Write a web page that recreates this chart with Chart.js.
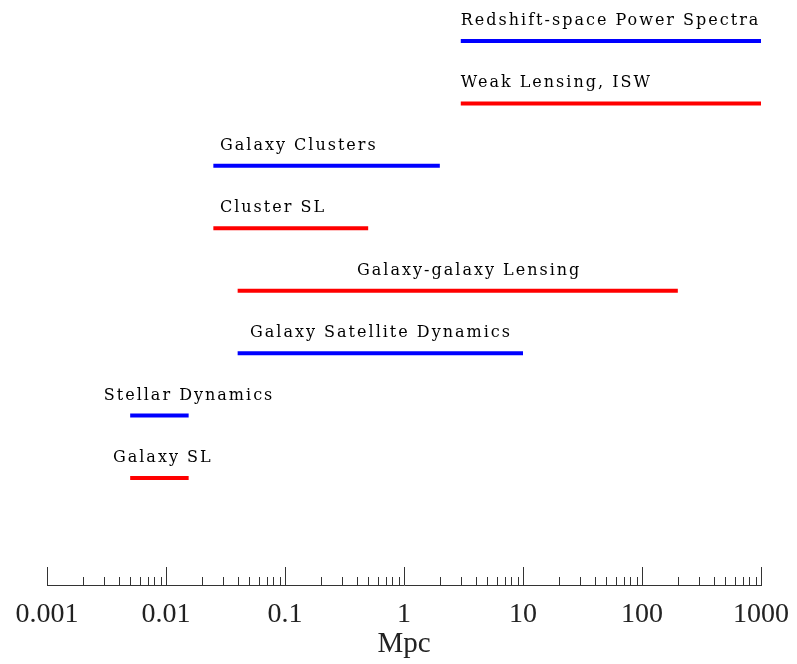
<!DOCTYPE html>
<html>
<head>
<meta charset="utf-8">
<script src="https://cdn.jsdelivr.net/npm/chart.js@4.4.1/dist/chart.umd.min.js"></script>
<style>
  html, body { margin: 0; padding: 0; background: #fff; }
  #wrap { width: 797px; height: 664px; }
</style>
</head>
<body>
<div id="wrap"><canvas id="scales" width="797" height="664"></canvas></div>
<script>
// probe names, top to bottom
const probes = ['Redshift-space Power Spectra', 'Weak Lensing, ISW', 'Galaxy Clusters', 'Cluster SL',
                'Galaxy-galaxy Lensing', 'Galaxy Satellite Dynamics', 'Stellar Dynamics', 'Galaxy SL'];
// scale range covered by each probe, in Mpc
const rangeFrom = [3, 3, 0.025, 0.025, 0.04, 0.04, 0.005, 0.005];
const rangeTo = [1000, 1000, 2, 0.5, 200, 10, 0.0155, 0.0155];
// where each label starts, in Mpc
const labelAt = [3, 3, 0.0284, 0.0284, 0.403, 0.0508, 0.003, 0.00358];
const colours = ['blue', 'red', 'blue', 'red', 'red', 'blue', 'blue', 'red'];
const tickLabels = ['0.001', '0.01', '0.1', '1', '10', '100', '1000'];

const rows = probes.map((p, i) => probes.length - i);

const datasets = probes.map((p, i) => ({
    label: p,
    data: [{x: rangeFrom[i], y: rows[i]}, {x: rangeTo[i], y: rows[i]}],
    borderColor: colours[i] === 'blue' ? '#0000ff' : '#ff0000',
    borderWidth: 4,
    pointRadius: 0,
    borderCapStyle: 'butt'
}));

const probeLabels = {
    id: 'probeLabels',
    afterDatasetsDraw(chart) {
        const ctx = chart.ctx;
        const x = chart.scales.x, y = chart.scales.y;
        ctx.save();
        ctx.font = '16px "DejaVu Serif"';
        ctx.letterSpacing = '2px';
        ctx.fillStyle = '#000';
        ctx.textBaseline = 'alphabetic';
        ctx.textAlign = 'left';
        probes.forEach((p, i) => {
            ctx.fillText(p, x.getPixelForValue(labelAt[i]), y.getPixelForValue(rows[i]) - 16);
        });
        ctx.restore();
    }
};

// inward tick marks along the bottom axis
const innerTicks = {
    id: 'innerTicks',
    afterDraw(chart) {
        const ctx = chart.ctx;
        const x = chart.scales.x;
        const base = chart.chartArea.bottom;
        ctx.save();
        ctx.strokeStyle = '#333';
        ctx.lineWidth = 1;
        x.ticks.forEach(t => {
            const px = Math.round(x.getPixelForValue(t.value)) + 0.5;
            const major = tickLabels.includes(String(t.value));
            ctx.beginPath();
            ctx.moveTo(px, base);
            ctx.lineTo(px, base - (major ? 18 : 8));
            ctx.stroke();
        });
        ctx.restore();
    }
};

new Chart(document.getElementById('scales').getContext('2d'), {
    type: 'line',
    data: {datasets: datasets},
    options: {
        responsive: false,
        animation: false,
        layout: {padding: {left: 47, right: 36, top: 0, bottom: 0}},
        plugins: {legend: {display: false}, tooltip: {enabled: false}},
        scales: {
            x: {
                type: 'logarithmic',
                min: 0.001,
                max: 1000,
                afterBuildTicks(scale) {
                    const ticks = [];
                    for (let d = -3; d < 3; d++) {
                        for (let m = 1; m < 10; m++) {
                            ticks.push({value: Number((m * Math.pow(10, d)).toPrecision(3))});
                        }
                    }
                    ticks.push({value: 1000});
                    scale.ticks = ticks;
                },
                afterFit(scale) {
                    scale.height = 79;
                    scale.paddingLeft = 0;
                    scale.paddingRight = 0;
                },
                grid: {display: false},
                border: {display: true, color: '#333', width: 1},
                ticks: {
                    autoSkip: false,
                    maxRotation: 0,
                    padding: 5,
                    color: '#222',
                    font: {family: '"Liberation Serif"', size: 28},
                    callback: v => tickLabels.includes(String(v)) ? String(v) : ''
                },
                title: {
                    display: true,
                    text: 'Mpc',
                    color: '#222',
                    font: {family: '"Liberation Serif"', size: 29},
                    padding: {top: 0, bottom: 2}
                }
            },
            y: {
                display: false,
                min: -0.714,
                max: 8.657
            }
        }
    },
    plugins: [probeLabels, innerTicks]
});
</script>
</body>
</html>
